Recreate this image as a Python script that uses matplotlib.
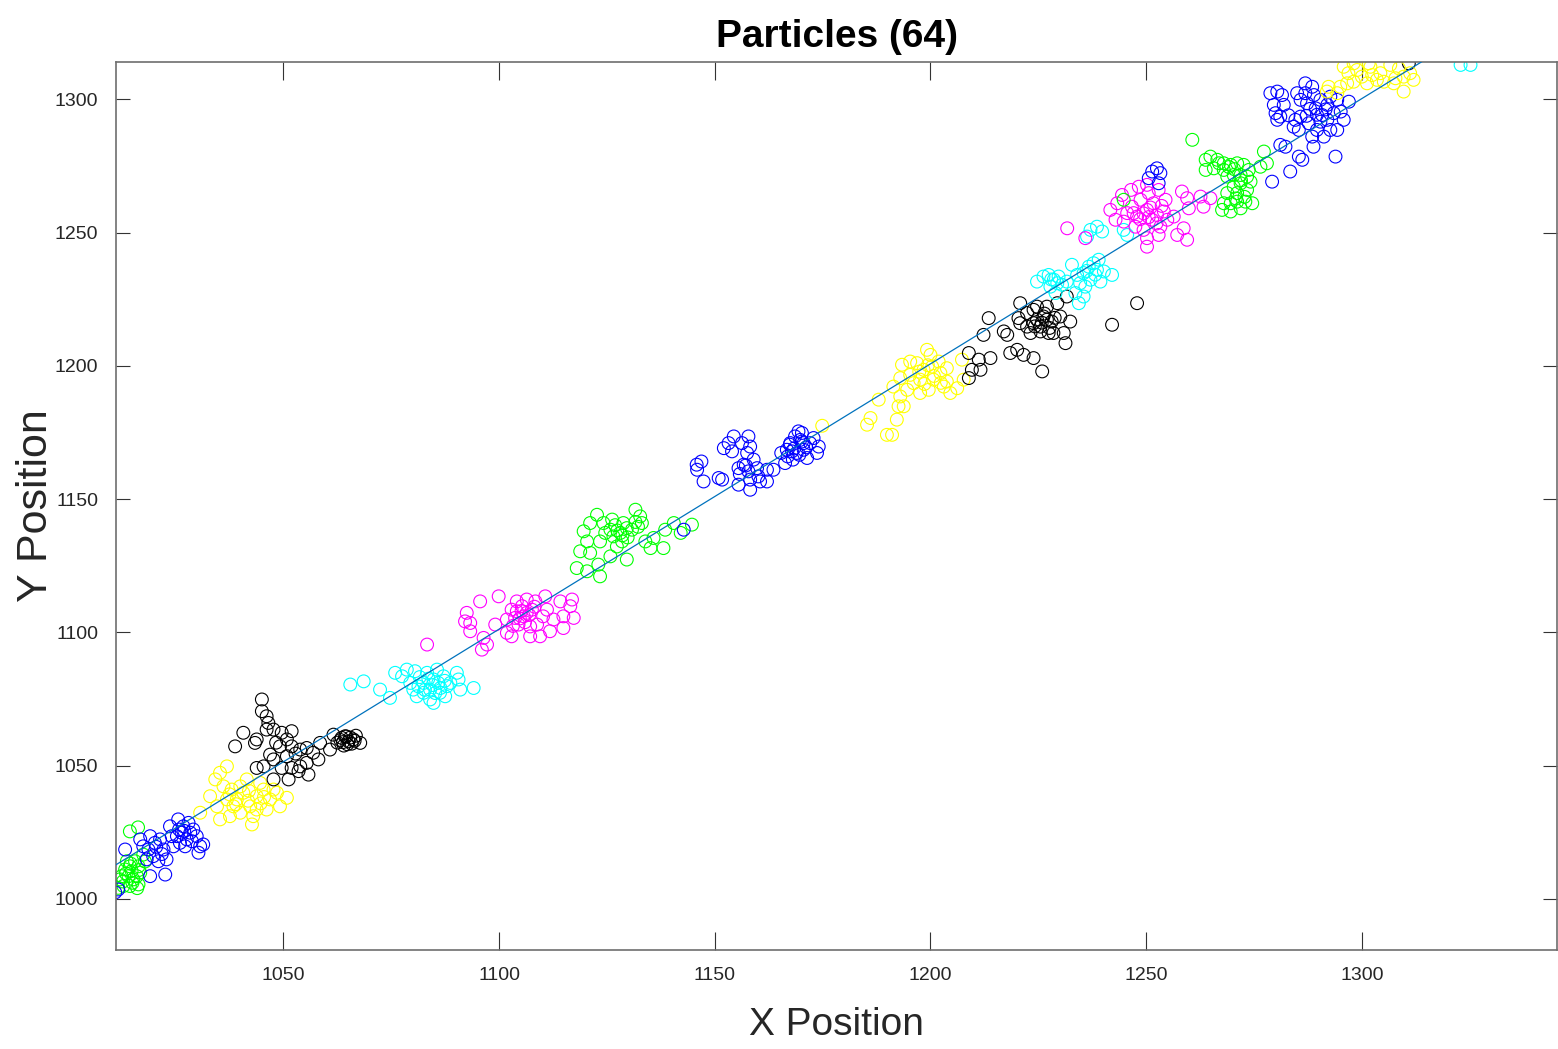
import matplotlib
matplotlib.use('Agg')
import matplotlib.pyplot as plt

# particle positions, one cluster per colour group
g1_x = [1012.1, 1013.3, 1014.4, 1015.6, 1016.4, 1014.1, 1015.2, 1012.9, 1016.4, 1011.7, 1014.8, 1013.7,
        1016.8, 1012.5, 1016.0, 1014.4, 1014.4, 1016.3, 1017.5, 1017.9, 1016.1, 1013.5, 1015.0, 1012.8,
        1016.5, 1014.6]
g1_y = [1007.3, 1011.0, 1012.2, 1014.1, 1012.2, 1008.5, 1007.3, 1004.8, 1005.4, 1004.1, 1010.4, 1014.1,
        1009.8, 1008.5, 1008.5, 1004.8, 1025.3, 1026.8, 1016.6, 1014.0, 1004.0, 1009.5, 1006.0, 1006.5,
        1010.8, 1013.2]

b1_x = [1011.7, 1011.0, 1013.3, 1019.1, 1020.2, 1018.7, 1021.4, 1022.2, 1019.8, 1021.0, 1022.9, 1019.1,
        1022.6, 1018.3, 1025.6, 1026.8, 1026.4, 1028.0, 1029.1, 1025.3, 1027.6, 1029.9, 1030.7, 1030.3,
        1031.4, 1024.1, 1023.7, 1027.2, 1024.5, 1017.5, 1016.8, 1028.4, 1026.0, 1020.5, 1027.0, 1028.8,
        1021.8, 1025.8]
b1_y = [1003.5, 1002.4, 1018.5, 1023.5, 1021.0, 1018.5, 1022.3, 1018.5, 1016.0, 1014.1, 1014.8, 1008.5,
        1009.1, 1014.8, 1029.8, 1027.2, 1024.8, 1028.5, 1026.0, 1023.5, 1022.3, 1023.5, 1019.7, 1017.3,
        1020.4, 1023.5, 1027.2, 1019.7, 1019.7, 1019.7, 1022.3, 1024.8, 1021.0, 1019.5, 1025.5, 1021.6,
        1016.8, 1026.0]

y1_x = [1030.7, 1033.0, 1034.2, 1035.3, 1036.9, 1036.1, 1038.0, 1039.2, 1040.7, 1042.3, 1043.8, 1045.4,
        1046.9, 1048.5, 1050.8, 1049.2, 1046.1, 1043.0, 1042.7, 1040.0, 1037.6, 1035.3, 1041.5, 1044.6,
        1038.4, 1034.6, 1047.7, 1040.0, 1036.9, 1043.8, 1039.0, 1041.8, 1044.7, 1037.5, 1042.0, 1045.5]
y1_y = [1032.3, 1038.5, 1044.8, 1047.3, 1049.7, 1042.2, 1041.0, 1037.3, 1039.8, 1034.7, 1038.5, 1041.0,
        1037.3, 1039.8, 1037.9, 1034.7, 1033.5, 1031.0, 1027.9, 1032.3, 1031.0, 1029.8, 1044.8, 1043.5,
        1034.7, 1034.7, 1041.0, 1042.2, 1037.3, 1033.5, 1035.5, 1036.8, 1035.8, 1039.2, 1040.5, 1038.2]

k1_x = [1045.0, 1045.0, 1046.1, 1046.5, 1046.1, 1040.7, 1043.8, 1038.8, 1043.4, 1047.7, 1049.6, 1051.9,
        1050.8, 1049.2, 1051.9, 1053.9, 1055.4, 1056.9, 1058.1, 1055.4, 1053.9, 1051.9, 1049.6, 1047.7,
        1051.2, 1045.4, 1043.8, 1055.8, 1053.5, 1047.7, 1064.3, 1065.1, 1063.5, 1066.2, 1067.8, 1061.6,
        1060.8, 1050.8, 1046.9, 1058.5, 1064.8, 1065.5, 1063.8, 1066.8, 1064.0, 1063.2, 1065.8, 1064.6,
        1066.5, 1062.5, 1048.3, 1052.8]
k1_y = [1074.8, 1070.4, 1068.5, 1066.0, 1063.5, 1062.3, 1059.8, 1057.2, 1058.5, 1063.5, 1062.3, 1062.9,
        1059.8, 1057.2, 1057.2, 1056.0, 1056.6, 1054.8, 1052.3, 1051.0, 1049.7, 1049.1, 1049.1, 1044.8,
        1044.8, 1049.7, 1049.1, 1046.6, 1047.9, 1052.3, 1061.0, 1059.1, 1060.4, 1059.8, 1058.5, 1061.6,
        1056.0, 1053.5, 1054.1, 1058.5, 1058.0, 1060.5, 1058.8, 1061.2, 1057.5, 1059.6, 1058.2, 1060.9,
        1059.3, 1058.6, 1058.6, 1054.5]

c1_x = [1065.5, 1068.6, 1072.4, 1074.7, 1075.9, 1077.5, 1078.6, 1080.5, 1079.4, 1081.3, 1082.5, 1084.0,
        1084.8, 1083.3, 1085.6, 1087.1, 1087.9, 1086.3, 1088.7, 1090.2, 1090.6, 1091.0, 1094.1, 1080.9,
        1084.0, 1085.9, 1087.5, 1084.8, 1082.5, 1080.1, 1084.6, 1086.4, 1082.8, 1085.2, 1087.4, 1083.6,
        1081.6]
c1_y = [1080.4, 1081.6, 1078.5, 1075.4, 1084.8, 1083.5, 1086.0, 1085.4, 1081.0, 1079.7, 1077.3, 1074.8,
        1082.3, 1084.8, 1086.0, 1083.5, 1079.8, 1077.3, 1081.0, 1084.8, 1082.3, 1078.5, 1079.1, 1076.0,
        1078.5, 1081.0, 1076.0, 1073.5, 1081.0, 1078.5, 1080.2, 1079.1, 1078.4, 1077.2, 1081.8, 1082.6,
        1083.2]

m1_x = [1083.3, 1092.5, 1092.1, 1093.3, 1093.3, 1095.6, 1099.9, 1096.4, 1096.0, 1097.2, 1099.1, 1101.8,
        1102.9, 1104.1, 1105.3, 1106.4, 1107.6, 1105.7, 1103.7, 1101.8, 1102.9, 1104.5, 1107.2, 1107.2,
        1109.5, 1108.8, 1110.7, 1111.1, 1112.6, 1111.8, 1114.2, 1114.9, 1114.9, 1116.5, 1116.9, 1117.3,
        1110.2, 1106.4, 1108.4, 1104.1, 1104.8, 1106.0, 1107.0, 1105.2, 1103.2, 1108.2]
m1_y = [1095.4, 1107.3, 1104.1, 1103.5, 1100.4, 1111.6, 1113.5, 1097.9, 1093.5, 1095.4, 1102.9, 1104.8,
        1108.5, 1111.6, 1109.8, 1112.3, 1108.5, 1106.0, 1105.4, 1099.8, 1098.5, 1102.9, 1102.2, 1098.5,
        1098.5, 1102.9, 1113.5, 1108.5, 1104.8, 1100.4, 1111.6, 1106.0, 1101.6, 1109.8, 1112.3, 1105.4,
        1106.0, 1107.3, 1111.6, 1107.9, 1105.2, 1103.8, 1106.5, 1108.0, 1102.4, 1109.6]

g2_x = [1118.0, 1120.4, 1123.4, 1123.0, 1118.8, 1120.4, 1119.6, 1121.1, 1122.7, 1124.2, 1124.6, 1123.4,
        1125.8, 1126.5, 1128.1, 1129.6, 1128.8, 1130.8, 1127.3, 1129.6, 1125.8, 1126.2, 1131.6, 1132.7,
        1133.1, 1133.9, 1135.8, 1138.5, 1140.5, 1142.1, 1144.7, 1138.1, 1135.1, 1128.5, 1121.1, 1127.4,
        1128.6, 1126.9, 1129.8, 1131.6, 1132.2]
g2_y = [1124.1, 1122.9, 1121.0, 1125.4, 1130.4, 1134.1, 1137.9, 1141.0, 1144.1, 1141.0, 1137.3, 1134.1,
        1138.5, 1136.0, 1137.3, 1139.1, 1141.0, 1138.5, 1132.2, 1127.3, 1128.5, 1142.3, 1146.0, 1143.5,
        1141.0, 1134.1, 1135.4, 1138.5, 1141.0, 1137.3, 1140.4, 1131.6, 1131.6, 1134.1, 1129.8, 1138.2,
        1136.4, 1140.2, 1135.6, 1141.4, 1139.6]

b2_x = [1142.8, 1145.8, 1146.9, 1145.9, 1147.4, 1150.9, 1151.7, 1152.1, 1153.2, 1154.4, 1154.0, 1156.3,
        1157.8, 1158.2, 1157.5, 1155.5, 1156.7, 1157.8, 1159.0, 1159.8, 1160.1, 1158.2, 1155.5, 1158.2,
        1160.5, 1162.1, 1162.1, 1163.6, 1166.7, 1166.3, 1167.5, 1168.6, 1169.4, 1170.2, 1169.0, 1170.6,
        1171.4, 1172.1, 1172.9, 1173.7, 1174.1, 1168.1, 1165.4, 1166.9, 1170.2, 1167.9, 1170.6, 1168.4,
        1169.6, 1171.2, 1167.4, 1169.8, 1157.2, 1155.8]
b2_y = [1138.5, 1162.9, 1164.1, 1161.0, 1156.6, 1157.9, 1157.3, 1169.1, 1171.0, 1173.5, 1167.9, 1171.0,
        1173.5, 1169.7, 1167.3, 1161.6, 1162.9, 1160.4, 1164.8, 1161.6, 1158.5, 1157.3, 1155.4, 1153.5,
        1156.6, 1156.6, 1161.0, 1161.0, 1168.5, 1163.5, 1171.0, 1173.5, 1175.4, 1171.6, 1167.3, 1168.5,
        1165.4, 1171.0, 1172.9, 1167.3, 1169.7, 1164.8, 1167.3, 1166.0, 1174.8, 1167.9, 1171.0, 1169.0,
        1166.6, 1169.4, 1170.4, 1172.2, 1162.6, 1159.4]

y2_x = [1174.9, 1185.3, 1186.1, 1189.9, 1191.1, 1188.0, 1192.2, 1192.6, 1193.8, 1193.0, 1193.0, 1193.4,
        1195.3, 1196.9, 1199.2, 1200.0, 1198.4, 1197.6, 1196.1, 1197.6, 1199.6, 1200.7, 1202.3, 1203.1,
        1203.8, 1201.9, 1204.6, 1206.2, 1207.7, 1207.3, 1194.6, 1195.3, 1200.4, 1203.8, 1191.4, 1198.6,
        1200.8, 1197.4, 1202.4, 1199.4]
y2_y = [1177.5, 1177.9, 1180.4, 1174.1, 1174.1, 1187.3, 1179.8, 1184.8, 1184.8, 1188.5, 1195.4, 1200.4,
        1201.6, 1201.0, 1206.0, 1204.1, 1198.5, 1194.8, 1193.5, 1189.8, 1191.0, 1194.8, 1197.3, 1192.2,
        1199.1, 1201.6, 1189.8, 1191.6, 1194.8, 1202.3, 1191.0, 1196.6, 1199.7, 1194.1, 1192.2, 1193.2,
        1196.2, 1197.8, 1193.6, 1200.2]

k2_x = [1208.9, 1208.9, 1209.6, 1211.2, 1211.6, 1213.9, 1213.5, 1212.3, 1217.0, 1217.8, 1220.1, 1218.5,
        1221.6, 1223.9, 1225.9, 1220.4, 1220.8, 1222.4, 1223.9, 1225.5, 1227.0, 1229.4, 1230.1, 1232.4,
        1230.9, 1231.3, 1227.4, 1223.2, 1224.7, 1224.7, 1226.2, 1228.1, 1231.6, 1225.5, 1222.4, 1247.9,
        1242.1, 1227.0, 1223.9, 1228.5, 1220.8, 1310.9, 1225.8, 1227.6, 1226.4, 1228.8, 1224.2]
k2_y = [1204.8, 1195.4, 1198.5, 1202.3, 1198.5, 1202.9, 1217.9, 1211.6, 1212.9, 1211.6, 1206.0, 1204.8,
        1204.1, 1202.9, 1197.9, 1217.9, 1223.5, 1219.8, 1216.0, 1214.7, 1217.3, 1223.5, 1218.5, 1216.6,
        1212.3, 1208.5, 1212.3, 1212.3, 1222.2, 1217.3, 1218.5, 1216.6, 1226.0, 1212.9, 1214.7, 1223.5,
        1215.4, 1222.2, 1221.0, 1212.3, 1216.0, 1313.5, 1216.2, 1214.2, 1219.6, 1218.0, 1214.8]

c2_x = [1224.7, 1226.2, 1227.4, 1228.6, 1227.8, 1229.7, 1230.5, 1229.0, 1232.8, 1234.0, 1234.7, 1233.6,
        1234.4, 1235.5, 1236.7, 1237.8, 1239.0, 1238.6, 1237.1, 1239.4, 1240.2, 1242.1, 1235.9, 1237.1,
        1238.6, 1239.8, 1236.3, 1244.8, 1245.6, 1231.6, 1235.5, 1322.9, 1325.2, 1228.0, 1229.4, 1236.2,
        1238.2]
c2_y = [1231.6, 1233.5, 1234.1, 1232.3, 1229.7, 1233.5, 1230.4, 1227.3, 1237.9, 1234.1, 1231.0, 1227.3,
        1223.5, 1234.8, 1237.2, 1238.5, 1239.8, 1236.0, 1232.3, 1231.6, 1235.4, 1234.1, 1229.7, 1251.0,
        1252.2, 1250.4, 1248.5, 1251.0, 1249.1, 1231.6, 1226.0, 1312.9, 1312.9, 1232.4, 1231.0, 1235.6,
        1234.2]

m2_x = [1231.7, 1235.9, 1241.7, 1243.3, 1244.4, 1245.6, 1244.8, 1246.7, 1247.9, 1248.7, 1247.5, 1249.4,
        1250.2, 1250.2, 1250.2, 1250.6, 1251.7, 1251.4, 1252.5, 1252.9, 1254.1, 1253.3, 1254.9, 1254.5,
        1248.3, 1250.2, 1256.4, 1258.3, 1259.5, 1259.9, 1258.7, 1259.5, 1257.2, 1262.6, 1263.3, 1264.9,
        1246.5, 1252.9, 1242.9, 1247.1, 1249.4, 1251.0, 1252.4, 1248.6, 1250.6, 1253.6]
m2_y = [1251.6, 1247.9, 1258.5, 1261.0, 1264.1, 1257.3, 1254.1, 1259.7, 1256.0, 1262.3, 1252.2, 1251.0,
        1247.9, 1244.7, 1258.5, 1264.8, 1261.0, 1254.8, 1256.6, 1266.0, 1257.9, 1252.2, 1254.8, 1262.3,
        1267.2, 1267.9, 1256.0, 1265.4, 1262.9, 1259.1, 1251.6, 1247.3, 1249.1, 1263.5, 1259.7, 1262.9,
        1266.0, 1249.1, 1254.8, 1257.3, 1257.2, 1259.4, 1253.4, 1255.0, 1255.8, 1260.0]

g3_x = [1244.8, 1260.7, 1263.8, 1264.9, 1266.5, 1268.0, 1269.6, 1271.1, 1272.6, 1263.8, 1265.7, 1268.0,
        1270.3, 1271.9, 1273.4, 1274.2, 1271.9, 1270.3, 1268.8, 1271.1, 1273.4, 1274.6, 1273.0, 1271.1,
        1269.6, 1268.0, 1267.6, 1269.6, 1271.9, 1276.5, 1277.3, 1278.0, 1273.8, 1268.8, 1266.9, 1270.4,
        1272.0, 1270.8, 1272.8, 1269.2]
g3_y = [1262.3, 1284.8, 1277.3, 1278.5, 1277.3, 1276.0, 1275.4, 1276.0, 1275.4, 1273.5, 1274.1, 1273.5,
        1271.6, 1271.6, 1271.0, 1269.1, 1268.5, 1267.2, 1264.8, 1264.8, 1266.0, 1261.0, 1261.6, 1261.6,
        1261.0, 1261.0, 1258.5, 1257.9, 1259.1, 1274.7, 1280.4, 1276.0, 1273.5, 1271.0, 1276.0, 1273.8,
        1269.6, 1262.8, 1263.4, 1274.6]

b3_x = [1251.4, 1252.5, 1253.3, 1250.6, 1252.9, 1279.2, 1283.4, 1281.1, 1282.3, 1285.4, 1286.2, 1288.8,
        1293.9, 1278.8, 1280.4, 1281.5, 1279.6, 1280.0, 1281.1, 1280.4, 1281.9, 1284.6, 1284.2, 1285.8,
        1286.9, 1288.5, 1288.9, 1285.8, 1287.3, 1289.3, 1290.4, 1290.8, 1292.0, 1292.7, 1293.5, 1295.1,
        1295.8, 1297.0, 1294.3, 1292.7, 1291.2, 1289.6, 1288.5, 1287.7, 1285.4, 1290.4, 1294.3, 1292.0,
        1285.0, 1286.9, 1288.0, 1289.6, 1287.2, 1291.6, 1283.0]
b3_y = [1272.9, 1274.1, 1272.3, 1270.4, 1268.5, 1269.1, 1272.9, 1282.9, 1282.2, 1278.5, 1277.3, 1282.2,
        1278.5, 1302.3, 1302.9, 1301.6, 1297.9, 1294.8, 1293.5, 1292.3, 1297.9, 1292.3, 1289.7, 1293.5,
        1306.0, 1304.7, 1301.6, 1299.8, 1298.5, 1296.6, 1299.8, 1294.1, 1297.9, 1301.0, 1294.8, 1295.4,
        1292.3, 1299.1, 1288.5, 1288.5, 1286.0, 1288.5, 1286.0, 1291.0, 1288.5, 1291.6, 1299.8, 1292.3,
        1302.3, 1302.3, 1296.4, 1294.2, 1293.8, 1296.2, 1294.0]

y3_x = [1295.8, 1296.9, 1298.1, 1296.6, 1295.0, 1292.3, 1291.9, 1294.3, 1298.9, 1300.0, 1302.0, 1302.4,
        1303.5, 1301.2, 1304.3, 1306.6, 1308.6, 1307.8, 1307.4, 1309.7, 1309.7, 1311.2, 1312.0, 1305.1,
        1298.1, 1301.6]
y3_y = [1312.2, 1309.8, 1306.6, 1306.0, 1304.7, 1304.7, 1302.9, 1302.3, 1311.0, 1308.5, 1312.2, 1309.1,
        1307.3, 1306.0, 1309.8, 1312.9, 1311.6, 1307.9, 1306.0, 1308.5, 1302.9, 1309.8, 1307.3, 1306.6,
        1313.5, 1313.5]

# fitted track
line_x = [1011.0, 1314.0]
line_y = [1012.6, 1314.2]

x_ticks = [1050, 1100, 1150, 1200, 1250, 1300]
y_ticks = [1000, 1050, 1100, 1150, 1200, 1250, 1300]

clusters = [
    (g1_x, g1_y, '#00ff00'), (b1_x, b1_y, '#0000ff'), (y1_x, y1_y, '#ffff00'),
    (k1_x, k1_y, '#000000'), (c1_x, c1_y, '#00ffff'), (m1_x, m1_y, '#ff00ff'),
    (g2_x, g2_y, '#00ff00'), (b2_x, b2_y, '#0000ff'), (y2_x, y2_y, '#ffff00'),
    (k2_x, k2_y, '#000000'), (c2_x, c2_y, '#00ffff'), (m2_x, m2_y, '#ff00ff'),
    (g3_x, g3_y, '#00ff00'), (b3_x, b3_y, '#0000ff'), (y3_x, y3_y, '#ffff00'),
]

plt.rcParams['font.family'] = ['Liberation Sans', 'DejaVu Sans']

fig = plt.figure(figsize=(15.58, 10.49), dpi=100)
ax = fig.add_axes([0.0745, 0.0944, 0.925, 0.8465])

for xs, ys, col in clusters:
    ax.scatter(xs, ys, s=85, facecolors='none', edgecolors=col, linewidths=0.8, zorder=2)

ax.plot(line_x, line_y, color=(0, 0.447, 0.741), lw=0.9, zorder=3)

ax.set_xlim(1011.2, 1345.3)
ax.set_ylim(980.8, 1314.0)
ax.set_xticks(x_ticks)
ax.set_yticks(y_ticks)
ax.tick_params(axis='both', direction='in', top=True, right=True, color='#333333', width=0.8,
               labelsize=14, labelcolor='#262626')
ax.tick_params(axis='x', length=13, pad=12)
ax.tick_params(axis='y', length=10, pad=13)
for sp in ax.spines.values():
    sp.set_color('#6e6e6e')
    sp.set_linewidth(1.2)

ax.set_title('Particles (64)', fontsize=28, fontweight='bold', pad=11)
ax.set_xlabel('X Position', fontsize=28, va='center', color='#262626')
ax.xaxis.set_label_coords(0.5, -0.0845)
ax.set_ylabel('Y Position', fontsize=31, va='center', ha='center', color='#262626')
ax.yaxis.set_label_coords(-0.0555, 0.5)

fig.savefig('out.png', dpi=100)
